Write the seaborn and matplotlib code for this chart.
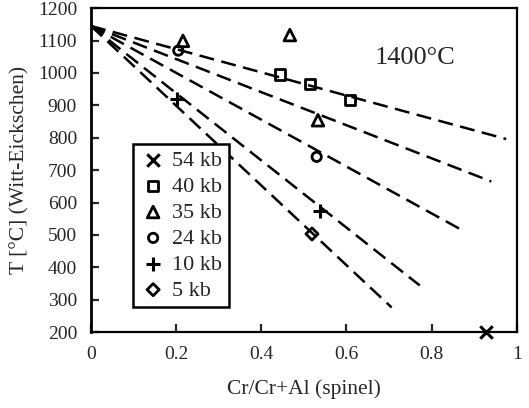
import matplotlib
matplotlib.use("Agg")
import matplotlib.pyplot as plt
import seaborn as sns
import pandas as pd
import numpy as np

# ---- data ----
series_labels = ["54 kb", "40 kb", "35 kb", "24 kb", "10 kb", "5 kb"]
series_markers = ["x", "s", "^", "o", "+", "D"]

x_54 = [0.927]
y_54 = [200]
x_40 = [0.444, 0.514, 0.608]
y_40 = [995, 965, 916]
x_35 = [0.216, 0.467, 0.533]
y_35 = [1099, 1117, 854]
x_24 = [0.205, 0.530]
y_24 = [1069, 741]
x_10 = [0.202, 0.538]
y_10 = [919, 573]
x_5 = [0.519]
y_5 = [503]

# fitted dashed lines (start at x=0)
line_names = ["40 kb", "35 kb", "24 kb", "10 kb", "5 kb"]
line_y0 = [1145, 1145, 1145, 1145, 1145]
line_x1 = [0.975, 0.940, 0.871, 0.772, 0.706]
line_y1 = [796, 665, 515, 344, 276]

x_ticks = [0, 0.2, 0.4, 0.6, 0.8, 1]
x_ticklabels = ["0", "0.2", "0.4", "0.6", "0.8", "1"]
y_ticks = [200, 300, 400, 500, 600, 700, 800, 900, 1000, 1100, 1200]

annotation = "1400°C"
x_label = "Cr/Cr+Al (spinel)"
y_label = "T [°C] (Witt-Eickschen)"

# ---- style ----
sns.set_style("ticks")
plt.rcParams["font.family"] = ["Liberation Serif", "DejaVu Serif"]
plt.rcParams["axes.linewidth"] = 1.6

fig = plt.figure(figsize=(5.29, 4.08), dpi=100)
ax = fig.add_axes([0.172, 0.186, 0.805, 0.794])

# dashed lines
rows = []
for name, y0, x1, y1 in zip(line_names, line_y0, line_x1, line_y1):
    rows.append({"line": name, "x": 0.0, "y": y0})
    rows.append({"line": name, "x": x1, "y": y1})
lines_df = pd.DataFrame(rows)
for name in line_names:
    sub = lines_df[lines_df["line"] == name]
    sns.lineplot(data=sub, x="x", y="y", ax=ax, color="black", lw=1.8,
                 dashes=False, estimator=None, sort=False, legend=False)
for l in ax.get_lines():
    l.set_dashes((6.0, 3.0))

# points
xs = [x_54, x_40, x_35, x_24, x_10, x_5]
ys = [y_54, y_40, y_35, y_24, y_10, y_5]
sizes = [80, 55, 70, 45, 90, 38]
for lab, m, xv, yv, s in zip(series_labels, series_markers, xs, ys, sizes):
    if m in ("x", "+"):
        sns.scatterplot(x=xv, y=yv, marker=m, s=s, color="black",
                        linewidth=2.2, ax=ax, label=lab, zorder=5, clip_on=False)
    else:
        sns.scatterplot(x=xv, y=yv, marker=m, s=s, facecolor="none",
                        edgecolor="black", linewidth=2.0, ax=ax, label=lab,
                        zorder=5, clip_on=False)

ax.set_xlim(0, 1)
ax.set_ylim(200, 1200)
ax.set_xticks(x_ticks)
ax.set_xticklabels(x_ticklabels)
ax.set_yticks(y_ticks)
ax.tick_params(direction="in", length=6, width=1.6, labelsize=14,
               top=False, right=False, pad=10)
for sp in ax.spines.values():
    sp.set_visible(True)
    sp.set_color("black")
ax.spines["left"].set_linewidth(2.0)

ax.set_xlabel(x_label, fontsize=15.5, labelpad=12)
ax.set_ylabel(y_label, fontsize=15.5, labelpad=6)

ax.text(0.76, 1047, annotation, fontsize=19, ha="center", va="center")

leg = ax.legend(loc="lower left", bbox_to_anchor=(0.099, 0.077),
                borderaxespad=0, frameon=True, fancybox=False,
                edgecolor="black", fontsize=16, labelspacing=0.24,
                handletextpad=0.25, handlelength=1.2, borderpad=0.3,
                framealpha=1)
leg.get_frame().set_linewidth(1.8)

fig.savefig("out.png", dpi=100)
